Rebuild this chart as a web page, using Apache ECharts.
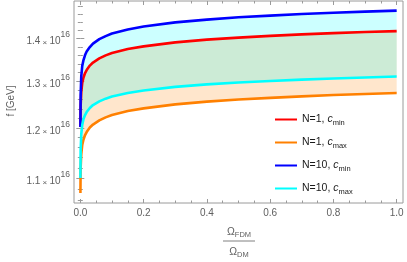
<!DOCTYPE html>
<html>
<head>
<meta charset="utf-8">
<script src="https://cdn.jsdelivr.net/npm/echarts@6/dist/echarts.min.js"></script>
<style>
html,body{margin:0;padding:0;background:#fff;}
#chart{width:407px;height:262px;}
</style>
</head>
<body>
<div id="chart"></div>
<script>
// Omega_FDM / Omega_DM
const omega = [0.0003, 0.001, 0.003, 0.006, 0.01, 0.015, 0.02, 0.03, 0.04, 0.06, 0.08, 0.1, 0.15, 0.2, 0.3, 0.4, 0.5, 0.6, 0.7, 0.8, 0.9, 1.0];
// f in units of 10^16 GeV
const n1cmin  = [1.2019, 1.2463, 1.2767, 1.2966, 1.3090, 1.3192, 1.3260, 1.3363, 1.3433, 1.3530, 1.3600, 1.3654, 1.3749, 1.3813, 1.3909, 1.3974, 1.4024, 1.4065, 1.4102, 1.4133, 1.4158, 1.4182];
const n1cmax  = [1.0727, 1.1200, 1.1473, 1.1652, 1.1763, 1.1855, 1.1916, 1.2009, 1.2071, 1.2159, 1.2222, 1.2271, 1.2355, 1.2413, 1.2499, 1.2557, 1.2603, 1.2640, 1.2673, 1.2701, 1.2723, 1.2745];
const n10cmin = [1.2019, 1.2701, 1.3124, 1.3352, 1.3491, 1.3607, 1.3690, 1.3796, 1.3880, 1.3988, 1.4060, 1.4121, 1.4219, 1.4293, 1.4396, 1.4466, 1.4523, 1.4566, 1.4604, 1.4637, 1.4667, 1.4692];
const n10cmax = [1.1008, 1.1552, 1.1875, 1.2061, 1.2186, 1.2271, 1.2334, 1.2420, 1.2484, 1.2564, 1.2622, 1.2668, 1.2745, 1.2800, 1.2882, 1.2937, 1.2980, 1.3013, 1.3043, 1.3070, 1.3092, 1.3113];

const xMajorTicks = [0, 0.2, 0.4, 0.6, 0.8, 1.0];
const xMinorTicks = [0.05, 0.1, 0.15, 0.25, 0.3, 0.35, 0.45, 0.5, 0.55, 0.65, 0.7, 0.75, 0.85, 0.9, 0.95];
const yMajorTicks = [1.1, 1.2, 1.3, 1.4];
const yMinorTicks = [1.06, 1.08, 1.12, 1.14, 1.16, 1.18, 1.22, 1.24, 1.26, 1.28, 1.32, 1.34, 1.36, 1.38, 1.42, 1.44, 1.46, 1.48];

const legendNames = ['N=1, c_min', 'N=1, c_max', 'N=10, c_min', 'N=10, c_max'];

const X_MIN = -0.02, X_MAX = 1.02, Y_MIN = 1.0544, Y_MAX = 1.4937;
const AX = '#9a9a9a';
const LBL = '#606060';
const FONT = '"Liberation Sans", Arial, sans-serif';

const pairs = arr => omega.map((x, i) => [x, arr[i]]);

function xAxisDef(pos, ticks, len, labels) {
  return {
    type: 'value', position: pos, min: X_MIN, max: X_MAX,
    axisLine: {show: false}, splitLine: {show: false},
    axisTick: {show: true, inside: true, length: len, customValues: ticks, lineStyle: {color: AX, width: 1}},
    axisLabel: labels ? {show: true, customValues: ticks, margin: 5, color: LBL, fontSize: 10, fontFamily: FONT,
      formatter: v => v.toFixed(1)} : {show: false}
  };
}
function yAxisDef(pos, ticks, len, labels) {
  return {
    type: 'log', logBase: 10, position: pos, min: Y_MIN, max: Y_MAX,
    axisLine: {show: false}, splitLine: {show: false},
    axisTick: {show: true, inside: true, length: len, customValues: ticks, lineStyle: {color: AX, width: 1}},
    axisLabel: labels ? {show: true, customValues: ticks, margin: 4, color: LBL, fontFamily: FONT,
      formatter: v => '{m|' + v.toFixed(1) + '}{x| \u00d7 }{m|10}{p|16}',
      rich: {
        m: {fontSize: 10, color: LBL, fontFamily: FONT, lineHeight: 16, verticalAlign: 'bottom'},
        x: {fontSize: 8, color: LBL, fontFamily: FONT, lineHeight: 14, verticalAlign: 'bottom'},
        p: {fontSize: 8.5, color: LBL, fontFamily: FONT, lineHeight: 9, verticalAlign: 'top'}
      }} : {show: false}
  };
}

function lineSeries(name, arr, color) {
  return {
    name: name, type: 'line', data: pairs(arr), xAxisIndex: 0, yAxisIndex: 0,
    showSymbol: false, symbol: 'none', smooth: false, z: 5,
    lineStyle: {color: color, width: 2.6, join: 'round'}, itemStyle: {color: color}
  };
}
// band between two curves, drawn through the axis scales (api.coord)
function band(hi, lo, color) {
  return {
    type: 'custom', coordinateSystem: 'cartesian2d', xAxisIndex: 0, yAxisIndex: 0,
    data: [[omega[0], lo[0]]], silent: true, clip: true, z: 2,
    renderItem: (params, api) => {
      const pts = [];
      for (let i = 0; i < omega.length; i++) pts.push(api.coord([omega[i], hi[i]]));
      for (let i = omega.length - 1; i >= 0; i--) pts.push(api.coord([omega[i], lo[i]]));
      return {type: 'polygon', shape: {points: pts}, style: {fill: color, stroke: null}};
    }
  };
}

const chart = echarts.init(document.getElementById('chart'), null, {renderer: 'canvas'});
chart.setOption({
  animation: false,
  backgroundColor: '#ffffff',
  grid: {left: 74, right: 4, top: 1, bottom: 59, show: true, borderColor: AX, borderWidth: 1, backgroundColor: 'transparent'},
  xAxis: [
    xAxisDef('bottom', xMajorTicks, 4, true),
    xAxisDef('bottom', xMinorTicks, 2.5, false),
    xAxisDef('top', xMajorTicks, 4, false),
    xAxisDef('top', xMinorTicks, 2.5, false)
  ],
  yAxis: [
    yAxisDef('left', yMajorTicks, 4, true),
    yAxisDef('left', yMinorTicks, 2.5, false),
    yAxisDef('right', yMajorTicks, 4, false),
    yAxisDef('right', yMinorTicks, 2.5, false)
  ],
  legend: {
    orient: 'vertical', left: 270, top: 109, itemWidth: 22, itemHeight: 14, itemGap: 10.5,
    icon: 'path://M0,6 L22,6 L22,8 L0,8 Z',
    data: legendNames,
    formatter: name => {
      const parts = name.split(', c_');
      return '{n|' + parts[0] + ', }{c|c}{s|' + parts[1] + '}';
    },
    textStyle: {
      rich: {
        n: {fontSize: 10.5, color: '#1a1a1a', fontFamily: FONT, lineHeight: 14},
        c: {fontSize: 10.5, color: '#1a1a1a', fontFamily: FONT, fontStyle: 'italic', lineHeight: 14},
        s: {fontSize: 7.5, color: '#1a1a1a', fontFamily: FONT, lineHeight: 9, verticalAlign: 'bottom'}
      }
    }
  },
  graphic: [
    {type: 'text', x: 11.5, y: 101, rotation: Math.PI / 2,
      style: {text: 'f [GeV]', fill: LBL, font: '10px ' + FONT, align: 'center', verticalAlign: 'middle'}},
    {type: 'text', x: 239, y: 232,
      style: {text: '{o|\u03a9}{s|FDM}', align: 'center', verticalAlign: 'middle',
        rich: {o: {fontSize: 10.5, fill: LBL, fontFamily: FONT, lineHeight: 14},
               s: {fontSize: 7.5, fill: LBL, fontFamily: FONT, lineHeight: 9, verticalAlign: 'bottom'}}}},
    {type: 'line', shape: {x1: 223, y1: 241, x2: 255, y2: 241}, style: {stroke: LBL, lineWidth: 0.8}},
    {type: 'text', x: 239, y: 252,
      style: {text: '{o|\u03a9}{s|DM}', align: 'center', verticalAlign: 'middle',
        rich: {o: {fontSize: 10.5, fill: LBL, fontFamily: FONT, lineHeight: 14},
               s: {fontSize: 7.5, fill: LBL, fontFamily: FONT, lineHeight: 9, verticalAlign: 'bottom'}}}}
  ],
  series: [
    band(n1cmin, n1cmax, 'rgba(255,128,0,0.2)'),
    band(n10cmin, n10cmax, 'rgba(0,255,255,0.2)'),
    lineSeries(legendNames[0], n1cmin, '#ff0000'),
    lineSeries(legendNames[1], n1cmax, '#ff8000'),
    lineSeries(legendNames[2], n10cmin, '#0000ff'),
    lineSeries(legendNames[3], n10cmax, '#00ffff')
  ]
});
</script>
</body>
</html>
